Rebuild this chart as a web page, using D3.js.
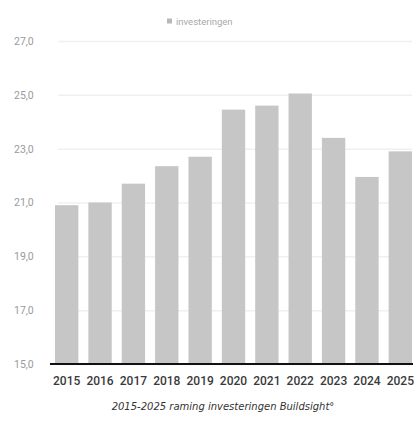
<!DOCTYPE html>
<html>
<head>
<meta charset="utf-8">
<script src="https://cdn.jsdelivr.net/npm/d3@7"></script>
<style>
  body { margin: 0; background: #fff; }
  text { font-family: Roboto, "Noto Sans", sans-serif; }
</style>
</head>
<body>
<div id="chart"></div>
<script>
let years = ['2015', '2016', '2017', '2018', '2019', '2020', '2021', '2022', '2023', '2024', '2025'];
let investments = [20.9, 21.0, 21.7, 22.35, 22.7, 24.45, 24.6, 25.05, 23.4, 21.95, 22.9];
let yTicks = [15, 17, 19, 21, 23, 25, 27];
let legendLabel = 'investeringen';
let caption = '2015-2025 raming investeringen Buildsight°';

let width = 414, height = 421;
let svg = d3.select('#chart').append('svg')
  .attr('width', width).attr('height', height);

let x = d3.scaleBand()
  .domain(years)
  .range([45, 422])
  .paddingInner(0.3)
  .paddingOuter(0.3);

let y = d3.scaleLinear()
  .domain([15, 27])
  .range([364, 41]);

// gridlines + y labels
let yAxis = svg.append('g')
  .attr('transform', 'translate(58,0)')
  .call(d3.axisLeft(y).tickValues(yTicks).tickSize(-354)
    .tickFormat(d => d3.format('.1f')(d).replace('.', ',')));
yAxis.select('.domain').remove();
yAxis.selectAll('.tick line').attr('stroke', '#f0f0f0').attr('stroke-width', 1.5);
yAxis.selectAll('.tick text')
  .attr('x', -44).attr('text-anchor', 'start')
  .attr('fill', '#9a9a9a').style('font-size', '10.5px');

svg.append('g').selectAll('rect')
  .data(investments)
  .enter().append('rect')
  .attr('x', (d, i) => x(years[i]))
  .attr('width', x.bandwidth())
  .attr('y', d => y(d))
  .attr('height', d => y(15) - y(d))
  .attr('fill', '#c6c6c6');

// x axis
let xAxis = svg.append('g')
  .attr('transform', 'translate(0,' + y(15) + ')')
  .call(d3.axisBottom(x).tickSize(0).tickPadding(12));
xAxis.select('.domain').remove();
xAxis.selectAll('text')
  .attr('fill', '#3a3a3a').style('font-size', '12px').style('font-weight', 500);
svg.append('line')
  .attr('x1', 50).attr('x2', 413)
  .attr('y1', y(15)).attr('y2', y(15))
  .attr('stroke', '#111').attr('stroke-width', 2.2);

// legend
let legend = svg.append('g').attr('transform', 'translate(167,22)');
legend.append('rect')
  .attr('x', 0).attr('y', -3.5).attr('width', 5).attr('height', 5)
  .attr('fill', '#b8b8b8');
legend.append('text')
  .attr('x', 9).attr('y', 0).attr('dy', '0.32em')
  .attr('fill', '#a8a8a8').style('font-size', '9.5px')
  .text(legendLabel);

// caption
svg.append('text')
  .attr('x', 223).attr('y', 410)
  .attr('text-anchor', 'middle')
  .attr('fill', '#333')
  .style('font-family', '"DejaVu Sans", sans-serif')
  .style('font-size', '10px').style('font-style', 'italic')
  .text(caption);
</script>
</body>
</html>
